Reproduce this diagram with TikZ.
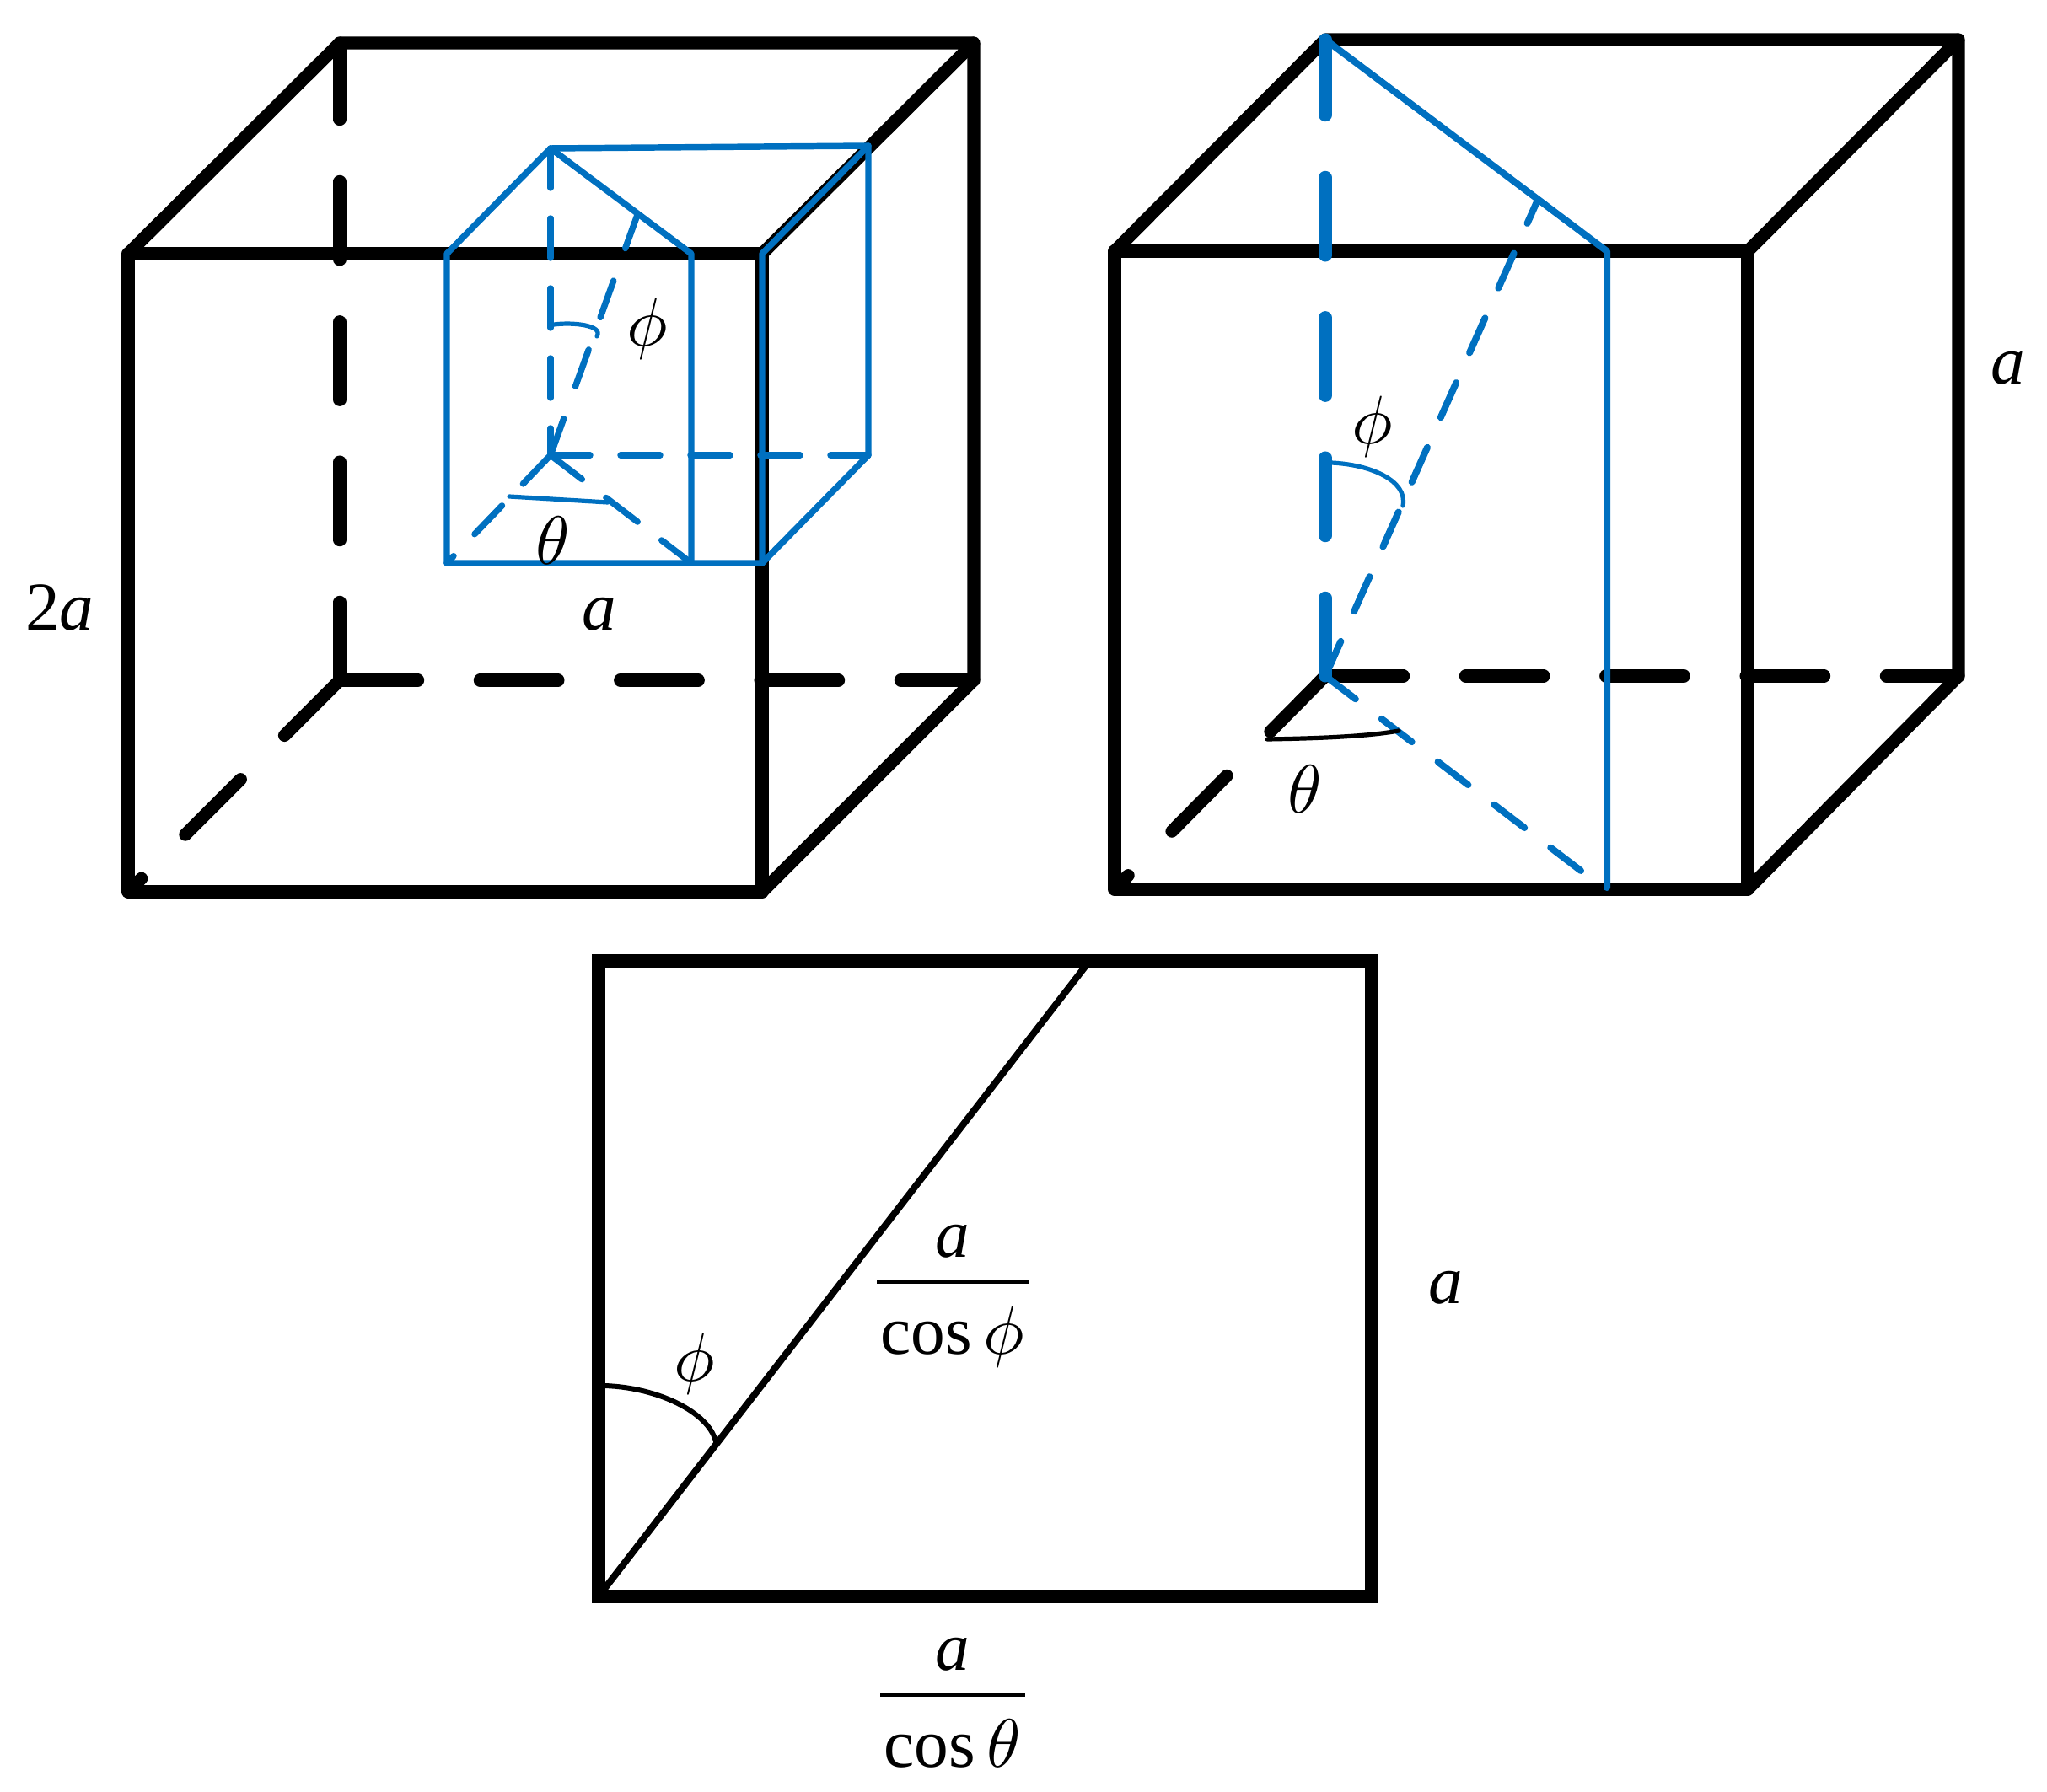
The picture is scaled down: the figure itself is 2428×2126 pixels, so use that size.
\documentclass[tikz,border=0pt]{standalone}
\usepackage{fix-cm}
\usepackage{amsmath}
\usepackage{fontspec}
\setmainfont{Liberation Serif}
\DeclareFontShape{OML}{cmm}{m}{it}{<->cmmi10}{\skewchar\font=127}
\definecolor{prismblue}{RGB}{0,112,192}
\tikzset{
  edgeline/.style={line width=11.3pt,line cap=round,line join=round},
  backline/.style={edgeline,dash pattern=on 69.5pt off 55.25pt},
  prismline/.style={prismblue,line width=5.6pt,line cap=round,line join=round},
  prismdash/.style={prismline,dash pattern=on 35.25pt off 27pt},
  raydash/.style={prismblue,line width=6pt,line cap=round,dash pattern=on 33.75pt off 29.25pt},
  anglearc/.style={line width=3.9pt,line cap=round},
  lbl/.style={font=\fontsize{61}{70}\selectfont,inner sep=0pt},
}

\begin{document}
\begin{tikzpicture}[x=0.75pt,y=0.75pt,yscale=-1,xscale=1]
\useasboundingbox (0,0) rectangle (2428,2126);

%Shape: Cube left, front and top
\draw [edgeline] (152,301) -- (904,301) -- (904,1058) -- (152,1058) -- cycle ;
\draw [edgeline] (152,301) -- (403,51) -- (1155,51) -- (904,301) ;
\draw [edgeline] (1155,51) -- (1155,807) -- (904,1058) ;
%Shape: Cube left, hidden edges
\draw [backline] (403,807) -- (403,51) ;
\draw [backline] (403,807) -- (1155,807) ;
\draw [backline] (403,807) -- (152,1058) ;

%Shape: Small prism, solid edges
\draw [prismline] (530,301) -- (653,176) -- (1030,173) -- (1030,540) -- (904,668) -- (530,668) -- cycle ;
\draw [prismline] (653,176) -- (820,301) -- (820,668) ;
\draw [prismline] (904,668) -- (904,301) -- (1030,173) ;
%Shape: Small prism, hidden edges
\draw [prismdash] (653,176) -- (653,540) ;
\draw [prismdash] (653,540) -- (1030,540) ;
\draw [prismdash] (653,540) -- (530,668) ;
\draw [prismdash] (653,540) -- (820,668) ;
\draw [prismdash,dash pattern=on 34.5pt off 30.75pt] (653,540) -- (756,255) ;
%Shape: Small prism, angles
\draw [anglearc,prismblue] (657,385) .. controls (680,382) and (716,386) .. (708,399) ;
\draw [anglearc,prismblue] (604,589) -- (721,596) ;

%Shape: Cube right, front and top
\draw [edgeline] (1322,298) -- (2073,298) -- (2073,1055) -- (1322,1055) -- cycle ;
\draw [edgeline] (1322,298) -- (1572,47) -- (2323,47) -- (2073,298) ;
\draw [edgeline] (2323,47) -- (2323,802) -- (2073,1055) ;
%Shape: Cube right, hidden edges
\draw [backline] (1572,802) -- (2323,802) ;
\draw [backline] (1572,802) -- (1322,1055) ;
\draw [backline,prismblue] (1572,802) -- (1572,47) ;

%Shape: Large prism
\draw [prismline,line width=6pt] (1572,47) -- (1906,298) -- (1906,1053) ;
\draw [raydash] (1572,802) -- (1824,237) ;
\draw [raydash] (1572,802) -- (1879,1036) ;
%Shape: Large prism, angles
\draw [anglearc,prismblue] (1579,549) .. controls (1625,551) and (1670,570) .. (1664,600) ;
\draw [anglearc,black] (1503,877) .. controls (1560,876) and (1620,874) .. (1659,867) ;

%Shape: Section
\draw [edgeline,line join=miter] (710,1140) -- (1627,1140) -- (1627,1894) -- (710,1894) -- cycle ;
\draw [line width=6pt,line cap=round] (710,1894) -- (1290,1143) ;
\draw [anglearc,line width=4.5pt] (717,1644) .. controls (780,1646) and (840,1675) .. (849,1710) ;

%Labels
\node [lbl,anchor=base] (cubeHeight) at (71,747) {2\textit{a}};
\node [lbl,anchor=base] (cubeWidth) at (711,747) {\textit{a}};
\node [lbl] (smallTheta) at (656,641) {$\theta$};
\node [lbl] (smallPhi) at (768,390) {$\phi$};
\node [lbl] (largePhi) at (1628,506) {$\phi$};
\node [lbl] (largeTheta) at (1548,936) {$\theta$};
\node [lbl,anchor=base] (largeSide) at (2382,455) {\textit{a}};
\node [lbl] (sectionPhi) at (824,1618) {$\phi$};
\node [lbl,anchor=base] (sectionSide) at (1715,1546) {\textit{a}};
\node [lbl,anchor=base] (slantFrac) at (1130,1541) {$\displaystyle\genfrac{}{}{4.1pt}{0}{\raisebox{-4pt}{\textit{a}}}{\mkern1mu\cos\phi\mkern1mu\rule{0pt}{50pt}}$};
\node [lbl,anchor=base] (baseFrac) at (1130,2031) {$\displaystyle\genfrac{}{}{4.1pt}{0}{\raisebox{-4pt}{\textit{a}}}{\mkern1mu\cos\theta\mkern1mu\rule{0pt}{50pt}}$};

\end{tikzpicture}
\end{document}
